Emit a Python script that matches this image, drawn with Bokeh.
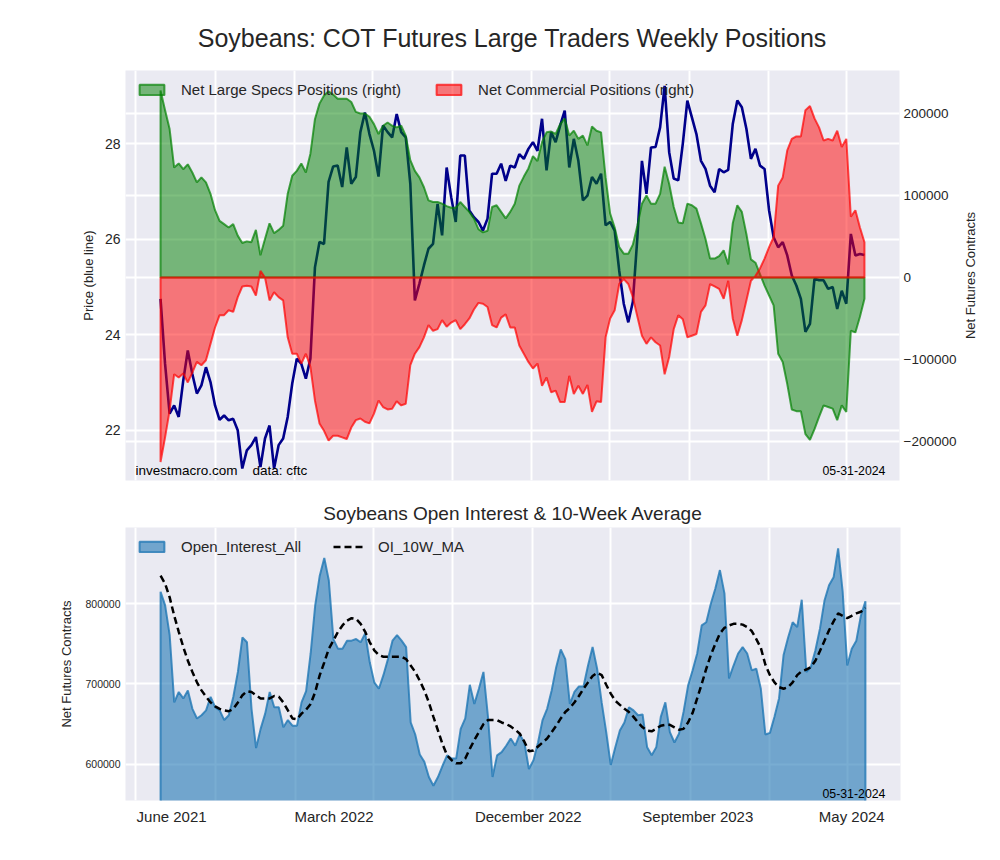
import math
import numpy as np
import pandas as pd
from bokeh.plotting import figure
from bokeh.models import Range1d, LinearAxis, FixedTicker, Grid, Label, Legend, LegendItem
from bokeh.layouts import column, row
from bokeh.embed import file_html
from bokeh.resources import INLINE

FONT = "Liberation Sans"
TXT = "#262626"
BG = "#EAEAF2"

first_report = "2021-06-08"

price = [24.75, 23.39, 22.35, 22.52, 22.28, 23.04, 23.67, 23.18, 22.77, 22.94, 23.32, 23.01, 22.52, 22.22,
         22.31, 22.21, 22.24, 22.0, 21.2, 21.58, 21.69, 21.86, 21.23, 21.83, 22.1, 21.2, 21.69, 21.83,
         22.28, 22.98, 23.5, 23.39, 23.08, 23.5, 25.41, 25.94, 25.9, 27.2, 27.52,
         27.54, 27.09, 27.92, 27.16, 27.3, 28.24, 28.65, 28.2, 27.85, 27.31, 28.38, 28.24, 28.13, 28.62,
         28.24, 28.13, 27.16, 24.72, 25.07, 25.45, 25.8, 25.9, 26.74, 26.08, 27.5, 26.88, 26.36, 27.75,
         27.75, 26.6, 26.46, 26.36, 26.18, 26.43, 27.37, 27.37, 27.58, 27.22,
         27.54, 27.5, 27.78, 27.68, 27.89, 28.03, 27.85, 28.52, 27.44, 28.24, 28.03, 28.38, 28.69, 27.5,
         28.1, 27.64, 26.81, 26.91, 27.3, 27.16, 27.37, 26.29, 26.36, 26.18, 25.34, 24.65, 24.26, 24.69,
         26.04, 27.64, 26.95, 27.92, 27.93, 28.34, 29.21, 27.82, 27.27, 27.23, 28.0,
         28.9, 28.55, 28.2, 27.64, 27.47, 27.12, 26.98, 27.47, 27.4, 27.45, 28.41, 28.9, 28.76, 28.31,
         27.68, 27.89, 27.54, 27.47, 26.6, 26.04, 25.83, 25.94, 25.66, 25.24, 25.03, 24.75, 24.06, 24.23,
         25.17, 25.14, 25.14, 24.96, 25.0, 24.54, 24.92, 24.65, 26.11, 25.66, 25.69, 25.67]

net_large_specs = [228000, 204000, 181000, 134000, 139000, 132000, 138000, 128000, 116000, 122000, 116000,
                   102000, 82000, 69000, 65000, 61000, 65000, 51000, 42000, 44000, 43000, 58000, 27000,
                   47000, 66000, 54000, 58000, 63000, 102000, 124000, 130000, 139000, 128000, 151000,
                   193000, 212000, 222000, 227000, 223000,
                   218000, 218000, 218000, 214000, 202000, 200000, 200000, 196000, 187000, 175000, 185000,
                   189000, 185000, 183000, 185000, 173000, 143000, 130000, 122000, 110000, 94000, 92000,
                   92000, 90000, 87000, 85000, 85000, 92000, 86000, 80000, 72000, 59000, 55000, 57000,
                   86000, 88000, 80000, 72000,
                   80000, 90000, 112000, 123000, 133000, 148000, 142000, 165000, 177000, 178000, 175000,
                   187000, 194000, 173000, 179000, 169000, 173000, 161000, 184000, 179000, 177000, 122000,
                   78000, 61000, 37000, 29000, 29000, 40000, 63000, 90000, 100000, 90000, 90000, 102000,
                   135000, 114000, 86000, 67000, 66000,
                   90000, 88000, 84000, 66000, 47000, 23000, 23000, 26000, 33000, 16000, 66000, 88000,
                   80000, 53000, 22000, 18000, 4000, -10000, -22000, -34000, -93000, -103000, -130000,
                   -161000, -163000, -163000, -191000, -198000, -185000, -170000, -156000, -158000,
                   -160000, -174000, -156000, -164000, -65000, -67000, -48000, -26000]

net_commercial = [-225000, -195000, -162000, -118000, -122000, -117000, -128000, -116000, -103000, -107000,
                  -101000, -81000, -61000, -46000, -46000, -40000, -42000, -24000, -11000, -10000, -11000,
                  -22000, 8000, 0, -28000, -18000, -24000, -28000, -73000, -93000, -93000, -105000,
                  -93000, -109000, -150000, -178000, -187000, -199000, -193000,
                  -193000, -195000, -197000, -183000, -174000, -172000, -176000, -178000, -166000,
                  -150000, -158000, -161000, -160000, -151000, -156000, -154000, -107000, -93000, -85000,
                  -73000, -58000, -65000, -63000, -52000, -60000, -55000, -52000, -63000, -57000, -50000,
                  -39000, -31000, -32000, -36000, -58000, -61000, -49000, -45000,
                  -61000, -61000, -83000, -93000, -103000, -111000, -105000, -132000, -122000, -140000,
                  -138000, -152000, -152000, -120000, -142000, -132000, -142000, -131000, -164000,
                  -151000, -152000, -73000, -50000, -40000, -8000, -2000, -8000, -24000, -48000, -71000,
                  -81000, -73000, -79000, -83000, -118000, -97000, -63000, -46000, -51000,
                  -73000, -71000, -69000, -42000, -34000, -8000, -11000, -14000, -26000, -4000, -50000,
                  -71000, -52000, -28000, -4000, 2000, 11000, 23000, 37000, 49000, 112000, 122000,
                  155000, 169000, 172000, 172000, 204000, 209000, 194000, 183000, 167000, 169000, 167000,
                  179000, 159000, 169000, 74000, 82000, 61000, 43000]

open_interest = [815000, 798000, 761000, 677000, 690000, 682000, 692000, 669000, 657000, 661000, 667000,
                 684000, 671000, 667000, 655000, 661000, 684000, 715000, 758000, 752000, 669000, 620000,
                 644000, 663000, 690000, 671000, 671000, 646000, 655000, 648000, 648000, 677000, 691000,
                 738000, 798000, 835000, 857000, 829000, 756000,
                 744000, 744000, 754000, 754000, 756000, 752000, 763000, 727000, 702000, 694000, 711000,
                 731000, 754000, 761000, 754000, 746000, 652000, 637000, 612000, 603000, 584000, 573000,
                 584000, 598000, 611000, 607000, 607000, 644000, 657000, 699000, 675000, 694000, 715000,
                 659000, 584000, 611000, 615000, 623000,
                 632000, 623000, 637000, 627000, 594000, 605000, 627000, 655000, 669000, 692000, 721000,
                 743000, 731000, 675000, 690000, 697000, 697000, 723000, 746000, 719000, 677000, 640000,
                 599000, 621000, 642000, 652000, 671000, 667000, 661000, 662000, 621000, 611000, 621000,
                 659000, 677000, 640000, 627000, 638000, 665000,
                 698000, 717000, 738000, 773000, 777000, 800000, 819000, 842000, 813000, 707000, 723000,
                 738000, 746000, 738000, 717000, 719000, 694000, 637000, 639000, 659000, 682000, 736000,
                 758000, 777000, 771000, 805000, 715000, 721000, 742000, 769000, 804000, 823000, 833000,
                 869000, 815000, 723000, 744000, 754000, 785000, 803000]

oi_10w_ma = [835000, 825000, 808000, 785000, 765000, 746000, 729000, 715000, 702000, 692000, 684000, 677000,
             672000, 669000, 667000, 666000, 669000, 677000, 686000, 691000, 690000, 686000, 682000,
             682000, 682000, 685000, 684000, 677000, 667000, 657000, 656000, 663000, 668000, 675000,
             690000, 711000, 727000, 744000, 754000,
             765000, 773000, 779000, 782000, 781000, 775000, 765000, 752000, 742000, 736000, 734000,
             734000, 734000, 734000, 734000, 731000, 723000, 715000, 704000, 692000, 677000, 659000,
             642000, 625000, 611000, 605000, 601000, 601000, 607000, 619000, 630000, 640000, 650000,
             655000, 655000, 655000, 652000, 650000,
             647000, 643000, 638000, 628000, 616000, 617000, 622000, 627000, 632000, 640000, 648000,
             657000, 665000, 670000, 677000, 685000, 694000, 702000, 710000, 714000, 711000, 699000,
             688000, 679000, 674000, 669000, 665000, 659000, 652000, 646000, 642000, 641000, 644000,
             648000, 649000, 649000, 646000, 643000, 644000,
             652000, 664000, 682000, 700000, 719000, 736000, 750000, 763000, 770000, 773000, 775000,
             775000, 774000, 771000, 766000, 756000, 745000, 724000, 711000, 702000, 696000, 694000,
             696000, 702000, 711000, 716000, 718000, 721000, 729000, 741000, 754000, 767000, 778000,
             788000, 785000, 782000, 785000, 788000, 790000, 795000]

x_label_dates = ["2021-06-25", "2022-03-02", "2022-12-26", "2023-09-13", "2024-05-07"]
x_label_texts = ["June 2021", "March 2022", "December 2022", "September 2023", "May 2024"]
x_grid_dates = ["2021-05-01", "2021-09-01", "2022-01-01", "2022-05-01", "2022-09-01",
                "2023-01-01", "2023-05-01", "2023-09-01", "2024-01-01", "2024-05-01"]
price_ticks = [22, 24, 26, 28]
net_ticks = [-200000, -100000, 0, 100000, 200000]
oi_ticks = [600000, 700000, 800000]


def ms(d):
    return int(pd.Timestamp(d).value // 10**6)


def tick_text(t):
    return str(t) if t >= 0 else "\u2212" + str(-t)


dates = pd.date_range(first_report, periods=len(price), freq="7D")
dvals = dates.values
n = len(dvals)
poly_x = np.concatenate([dvals, dvals[::-1]])
zeros = [0] * n

x_range = Range1d(ms("2021-04-15"), ms("2024-07-21"))


def style_axis(ax, size):
    ax.axis_line_color = None
    ax.major_tick_line_color = None
    ax.minor_tick_line_color = None
    ax.major_tick_out = 0
    ax.minor_tick_out = 0
    ax.major_tick_in = 0
    ax.minor_tick_in = 0
    ax.major_label_standoff = 5
    ax.major_label_text_font = FONT
    ax.major_label_text_color = TXT
    ax.major_label_text_font_size = size
    ax.axis_label_text_font = FONT
    ax.axis_label_text_color = TXT
    ax.axis_label_text_font_style = "normal"
    ax.axis_label_text_font_size = "13px"


def style(p):
    p.background_fill_color = BG
    p.border_fill_color = "white"
    p.outline_line_color = None
    p.title.text_font = FONT
    p.title.text_color = TXT
    p.title.text_font_style = "normal"
    p.title.align = "center"
    p.xgrid.ticker = FixedTicker(ticks=[ms(d) for d in x_grid_dates])
    for g in list(p.xgrid) + list(p.ygrid):
        g.grid_line_color = "white"
        g.grid_line_width = 2


def legend(items):
    return Legend(items=items, location="top_left", orientation="horizontal",
                  background_fill_alpha=0, border_line_alpha=0, label_text_font=FONT,
                  label_text_font_size="15px", label_text_color=TXT, glyph_width=31,
                  glyph_height=13, label_standoff=14, spacing=32, padding=9, margin=2)


# ---------------- top panel: 125 + 775 + 59 wide, 70 + 410 + 10 high ----------------
p1 = figure(x_axis_type="datetime", x_range=x_range, y_range=Range1d(20.95, 29.53),
            width=959, height=490,
            min_border_left=125, min_border_right=59, min_border_top=70, min_border_bottom=10,
            output_backend="svg", toolbar_location=None)
p1.extra_y_ranges = {"net": Range1d(-247600, 252400)}
style(p1)
p1.xaxis.visible = False

# main title, carried by a tick-less axis above the frame (centred on the frame)
title_ax = LinearAxis(ticker=FixedTicker(ticks=[]),
                      axis_label="Soybeans: COT Futures Large Traders Weekly Positions")
style_axis(title_ax, "1px")
title_ax.major_label_standoff = 0
title_ax.axis_label_text_font_size = "25px"
title_ax.axis_label_standoff = 19
p1.add_layout(title_ax, "above")

ly = p1.yaxis[0]
style_axis(ly, "14px")
ly.ticker = FixedTicker(ticks=price_ticks)
ly.major_label_overrides = {t: str(t) for t in price_ticks}
ly.axis_label = "Price (blue line)"
ly.axis_label_standoff = 6
p1.ygrid.ticker = FixedTicker(ticks=price_ticks)

rax = LinearAxis(y_range_name="net", ticker=FixedTicker(ticks=net_ticks))
style_axis(rax, "13.5px")
rax.major_label_standoff = 4
rax.major_label_overrides = {t: tick_text(t) for t in net_ticks}
p1.add_layout(rax, "right")
p1.add_layout(Grid(dimension=1, ticker=FixedTicker(ticks=net_ticks), y_range_name="net",
                   grid_line_color="white", grid_line_width=2))

p1.line(dvals, price, line_color="#00008B", line_width=2.6)
r_spec = p1.patch(poly_x, np.concatenate([net_large_specs, zeros]), y_range_name="net",
                  fill_color="green", fill_alpha=0.5, line_color="green", line_alpha=0.7, line_width=2)
r_comm = p1.patch(poly_x, np.concatenate([net_commercial, zeros]), y_range_name="net",
                  fill_color="red", fill_alpha=0.5, line_color="red", line_alpha=0.7, line_width=2)

p1.add_layout(legend([LegendItem(label="Net Large Specs Positions (right)", renderers=[r_spec]),
                      LegendItem(label="Net Commercial Positions (right)", renderers=[r_comm])]))

for txt, xo in [("investmacro.com", 10), ("data: cftc", 127)]:
    p1.add_layout(Label(x=xo, y=10, x_units="screen", y_units="screen", text=txt,
                        text_font=FONT, text_font_size="13.5px", text_color="black",
                        text_baseline="middle"))
p1.add_layout(Label(x=697, y=10, x_units="screen", y_units="screen", text="05-31-2024",
                    text_font=FONT, text_font_size="12.3px", text_color="black",
                    text_baseline="middle"))

# narrow strip to the right of the top panel that carries the right-hand axis title
# (a left-side axis label reads bottom-to-top, as in the reference)
p_lab = figure(width=33, height=490, x_range=Range1d(0, 1), y_range=Range1d(0, 1),
               min_border_left=12, min_border_right=0, min_border_top=70, min_border_bottom=10,
               output_backend="svg", toolbar_location=None)
p_lab.background_fill_color = "white"
p_lab.border_fill_color = "white"
p_lab.outline_line_color = None
p_lab.grid.visible = False
p_lab.xaxis.visible = False
lab_ax = p_lab.yaxis[0]
style_axis(lab_ax, "1px")
lab_ax.ticker = FixedTicker(ticks=[])
lab_ax.major_label_standoff = 0
lab_ax.axis_label = "Net Futures Contracts"
lab_ax.axis_label_standoff = 1

# ---------------- bottom panel: 37 + 273 + 50 high ----------------
p2 = figure(x_axis_type="datetime", x_range=x_range, y_range=Range1d(554700, 895100),
            width=992, height=360,
            min_border_left=125, min_border_right=92, min_border_top=37, min_border_bottom=50,
            output_backend="svg", toolbar_location=None,
            title="Soybeans Open Interest & 10-Week Average")
style(p2)
p2.title.text_font_size = "19px"
p2.title.standoff = 8

oy = p2.yaxis[0]
style_axis(oy, "10.5px")
oy.ticker = FixedTicker(ticks=oi_ticks)
oy.major_label_overrides = {t: tick_text(t) for t in oi_ticks}
oy.axis_label = "Net Futures Contracts"
oy.axis_label_standoff = 8
p2.ygrid.ticker = FixedTicker(ticks=oi_ticks)

xa = p2.xaxis[0]
style_axis(xa, "15px")
xa.ticker = FixedTicker(ticks=[ms(d) for d in x_label_dates])
xa.major_label_overrides = {ms(d): t for d, t in zip(x_label_dates, x_label_texts)}
xa.major_label_standoff = 7

r_oi = p2.patch(poly_x, np.concatenate([open_interest, zeros]), fill_color="#1f77b4", fill_alpha=0.6,
                line_color="#1f77b4", line_alpha=0.8, line_width=2)
r_ma = p2.line(dvals, oi_10w_ma, line_color="black", line_width=2.5, line_dash="7 4")

p2.add_layout(legend([LegendItem(label="Open_Interest_All", renderers=[r_oi]),
                      LegendItem(label="OI_10W_MA", renderers=[r_ma])]))

p2.add_layout(Label(x=697, y=7, x_units="screen", y_units="screen", text="05-31-2024",
                    text_font=FONT, text_font_size="12.3px", text_color="black",
                    text_baseline="middle"))
for txt, xo in [("investmacro.com", 252), ("data: cftc", 436)]:
    p2.add_layout(Label(x=xo, y=-36, x_units="screen", y_units="screen", text=txt,
                        text_font=FONT, text_font_size="15px", text_color="black",
                        text_baseline="middle"))

layout = column(row(p1, p_lab), p2)
open("out.html", "w").write(file_html(layout, INLINE))
